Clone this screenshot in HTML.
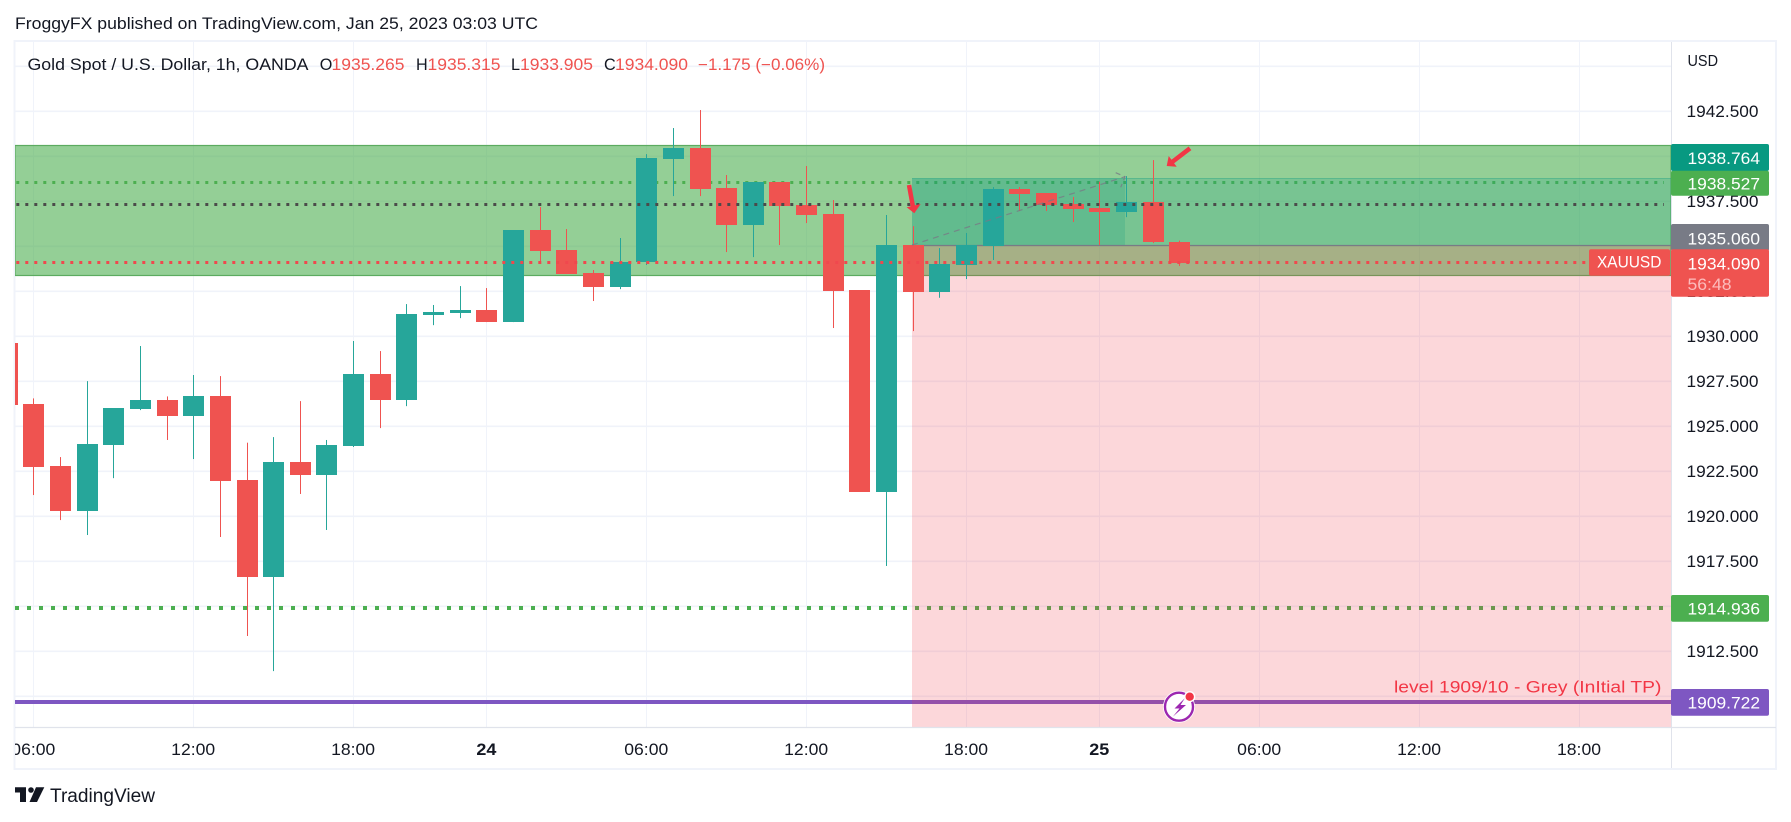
<!DOCTYPE html>
<html lang="en">
<head>
<meta charset="utf-8">
<title>Gold Spot / U.S. Dollar, 1h, OANDA</title>
<style>
html,body{margin:0;padding:0;background:#fff;width:1791px;height:822px;overflow:hidden}
svg{display:block;font-family:"Liberation Sans",sans-serif}
text{white-space:pre}
</style>
</head>
<body>
<svg id="chart" xmlns="http://www.w3.org/2000/svg" width="1791" height="822" viewBox="0 0 1791 822">
  <defs>
    <clipPath id="pane-clip"><rect x="15" y="42" width="1656" height="685"/></clipPath>
    <clipPath id="time-clip"><rect x="15" y="728" width="1656" height="40"/></clipPath>
  </defs>
  <text x="15" y="29" font-size="16.5" fill="#131722" textLength="523" lengthAdjust="spacingAndGlyphs">FroggyFX published on TradingView.com, Jan 25, 2023 03:03 UTC</text>

  <g>
    <rect x="14.5" y="41" width="1761.5" height="728" fill="#fff" stroke="#f0f3fa" stroke-width="2"/>
  </g>

  <g id="grid" clip-path="url(#pane-clip)"></g>

  <g clip-path="url(#pane-clip)">
    <rect x="15" y="145.5" width="1656" height="130" fill="rgba(76,175,80,.6)" stroke="#5cab60" stroke-width="1.2"/>
    <line id="level-upper-green" stroke="#4caf50" stroke-width="3" stroke-dasharray="3 6"/>
    <line id="level-lower-green" stroke="#4caf50" stroke-width="4" stroke-dasharray="4 8"/>
    <line id="level-purple" stroke="#7e57c2" stroke-width="4"/>
    <g>
      <rect x="912" y="178.5" width="759" height="67" fill="rgba(8,153,129,.2)"/>
      <rect x="912" y="245.5" width="759" height="481.5" fill="rgba(242,54,69,.2)"/>
      <rect x="912" y="178.5" width="213" height="67" fill="rgba(8,153,129,.2)"/>
      <line x1="912" y1="178.5" x2="1671" y2="178.5" stroke="rgba(8,153,129,.35)" stroke-width="1"/>
      <line x1="912" y1="245.5" x2="1671" y2="245.5" stroke="#787b86" stroke-width="1.2"/>
    </g>
  </g>

  <g id="candles" clip-path="url(#pane-clip)"></g>

  <g clip-path="url(#pane-clip)">
    <line id="level-black" stroke="#4a4a4a" stroke-width="3" stroke-dasharray="3 6"/>
    <line id="level-last" stroke="#f0484e" stroke-width="3" stroke-dasharray="3 6"/>
    <g fill="none" stroke="#787b86" stroke-opacity=".8" stroke-width="1.2">
      <line x1="912" y1="245" x2="1125" y2="176.7" stroke-dasharray="6 5"/>
      <path d="M1115.7 172.7L1125 176.7L1120.7 187.3" stroke-dasharray="5 4"/>
    </g>
    <g>
      <line x1="909" y1="185" x2="913" y2="207" stroke="#f23645" stroke-width="4.5"/>
      <polygon points="914.3,213.3 906.7,207.3 920.7,204" fill="#f23645"/>
    </g>
    <g>
      <line x1="1190" y1="148.3" x2="1171.5" y2="162.5" stroke="#f23645" stroke-width="4.5"/>
      <polygon points="1166.7,166 1168.7,156 1176.7,166.7" fill="#f23645"/>
    </g>
    <text x="1394" y="692.7" font-size="17" fill="#f23645" textLength="267.4" lengthAdjust="spacingAndGlyphs">level 1909/10 - Grey (InItial TP)</text>
    <g>
      <circle cx="1179" cy="706.7" r="16" fill="#fff"/>
      <circle cx="1179" cy="706.7" r="14" fill="none" stroke="#9c27b0" stroke-width="2.4"/>
      <path d="M1185 698L1174.5 708.5H1179.5L1173 716.5L1186 705H1180.5Z" fill="#9c27b0"/>
      <circle cx="1189.7" cy="696.7" r="5.6" fill="#fff"/>
      <circle cx="1189.7" cy="696.7" r="4.2" fill="#f23645"/>
    </g>
  </g>

  <g font-size="16.2">
    <text x="27.5" y="70" fill="#131722" textLength="281" lengthAdjust="spacingAndGlyphs">Gold Spot / U.S. Dollar, 1h, OANDA</text>
    <text x="319.7" y="70" fill="#131722">O</text>
    <text x="331.5" y="70" fill="#ef5350" textLength="73" lengthAdjust="spacingAndGlyphs">1935.265</text>
    <text x="416" y="70" fill="#131722">H</text>
    <text x="427.5" y="70" fill="#ef5350" textLength="73" lengthAdjust="spacingAndGlyphs">1935.315</text>
    <text x="511" y="70" fill="#131722">L</text>
    <text x="520" y="70" fill="#ef5350" textLength="73" lengthAdjust="spacingAndGlyphs">1933.905</text>
    <text x="604" y="70" fill="#131722">C</text>
    <text x="615" y="70" fill="#ef5350" textLength="73" lengthAdjust="spacingAndGlyphs">1934.090</text>
    <text x="698" y="70" fill="#ef5350" textLength="127" lengthAdjust="spacingAndGlyphs">−1.175 (−0.06%)</text>
  </g>

  <line x1="15" y1="727.5" x2="1776" y2="727.5" stroke="#e0e3eb" stroke-width="1.2"/>
  <line x1="1671.5" y1="42" x2="1671.5" y2="768" stroke="#e0e3eb" stroke-width="1"/>
  <g id="time-axis" clip-path="url(#time-clip)"></g>

  <text x="1687.5" y="66" font-size="16" fill="#131722" textLength="30.5" lengthAdjust="spacingAndGlyphs">USD</text>
  <g id="price-axis"></g>

  <g font-size="16.5" fill="#fff">
    <g>
      <rect x="1671" y="144" width="98" height="27" rx="2" fill="#089981"/>
      <text x="1687.5" y="164" textLength="72.5" lengthAdjust="spacingAndGlyphs">1938.764</text>
    </g>
    <g>
      <rect x="1671" y="170.7" width="98" height="25" rx="2" fill="#4caf50"/>
      <text x="1687.5" y="189.3" textLength="72.5" lengthAdjust="spacingAndGlyphs">1938.527</text>
    </g>
    <g>
      <rect x="1671" y="224" width="98" height="27" rx="2" fill="#787b86"/>
      <text x="1687.5" y="244.3" textLength="72.5" lengthAdjust="spacingAndGlyphs">1935.060</text>
    </g>
    <g>
      <rect x="1671" y="249.3" width="98" height="47.4" rx="2" fill="#ef5350"/>
      <text x="1687.5" y="269.3" textLength="72.5" lengthAdjust="spacingAndGlyphs">1934.090</text>
      <text x="1687.5" y="290" fill="#fcbcbc" textLength="44" lengthAdjust="spacingAndGlyphs">56:48</text>
    </g>
    <g>
      <rect x="1589" y="249.3" width="81" height="26.4" rx="2" fill="#ef5350"/>
      <text x="1597" y="267.7" textLength="64.4" lengthAdjust="spacingAndGlyphs">XAUUSD</text>
    </g>
    <g>
      <rect x="1671" y="595" width="98" height="26.7" rx="2" fill="#4caf50"/>
      <text x="1687.5" y="614.3" textLength="72.5" lengthAdjust="spacingAndGlyphs">1914.936</text>
    </g>
    <g>
      <rect x="1671" y="689" width="98" height="26.7" rx="2" fill="#7e57c2"/>
      <text x="1687.5" y="708.3" textLength="72.5" lengthAdjust="spacingAndGlyphs">1909.722</text>
    </g>
  </g>

  <g>
    <path d="M15 787.3H26V802H20V792.5H15Z" fill="#131722"/>
    <circle cx="31" cy="790" r="2.8" fill="#131722"/>
    <path d="M36 787.3H44.3L37 802H29.5Z" fill="#131722"/>
    <text x="50" y="802" font-size="19" fill="#131722" textLength="105" lengthAdjust="spacingAndGlyphs">TradingView</text>
  </g>
</svg>

<script>
// Hourly OHLC (first entry is the bar clipped at the left edge)
const opens  = [1929.63,1926.24,1922.79,1920.31,1923.97,1925.96,1926.46,1925.59,1926.68,1922.01,1916.62,1923.01,1922.29,1923.90,1927.90,1926.46,1931.18,1931.29,1931.46,1930.79,1935.90,1934.79,1933.51,1932.74,1934.11,1939.85,1940.46,1938.24,1936.18,1938.57,1937.29,1936.79,1932.57,1921.35,1935.07,1932.46,1933.96,1935.03,1938.18,1937.96,1937.35,1937.12,1936.90,1937.46,1935.265];
const highs  = [1929.63,1926.55,1923.29,1927.51,1926.01,1929.46,1926.66,1927.85,1927.79,1924.09,1924.40,1926.40,1924.24,1929.74,1929.18,1931.79,1931.74,1932.79,1932.68,1935.90,1937.18,1935.96,1933.68,1935.46,1940.12,1941.57,1942.57,1938.96,1938.57,1938.57,1939.46,1937.57,1932.57,1936.74,1936.12,1934.90,1935.74,1938.29,1938.29,1937.96,1937.74,1938.59,1938.90,1939.79,1935.315];
const lows   = [1926.18,1921.18,1919.79,1918.96,1922.12,1925.90,1924.24,1923.18,1918.85,1913.35,1911.40,1921.24,1919.24,1923.85,1924.90,1926.12,1930.62,1931.01,1930.79,1930.79,1934.12,1933.46,1931.96,1932.62,1933.96,1937.79,1937.79,1934.68,1934.40,1935.07,1936.29,1930.46,1921.35,1917.24,1930.29,1932.14,1933.18,1934.24,1936.96,1936.96,1936.35,1935.07,1936.62,1935.18,1933.905];
const closes = [1926.18,1922.75,1920.31,1924.01,1926.01,1926.46,1925.59,1926.68,1921.96,1916.62,1923.01,1922.29,1923.96,1927.90,1926.46,1931.24,1931.35,1931.46,1930.79,1935.90,1934.74,1933.46,1932.74,1934.12,1939.90,1940.46,1938.18,1936.18,1938.57,1937.25,1936.74,1932.51,1921.35,1935.07,1932.47,1934.01,1935.07,1938.18,1937.90,1937.29,1937.07,1936.90,1937.46,1935.24,1934.090];

// Axis labels
const gridPrices = [1945,1942.5,1940,1937.5,1935,1932.5,1930,1927.5,1925,1922.5,1920,1917.5,1915,1912.5,1910];
const priceTickLabels = ["1942.500","1940.000","1937.500","1935.000","1932.500","1930.000","1927.500","1925.000","1922.500","1920.000","1917.500","1915.000","1912.500","1910.000"];
const timeTickBars = [1,7,13,18,24,30,36,41,47,53,59];
const timeTickLabels = ["06:00","12:00","18:00","24","06:00","12:00","18:00","25","06:00","12:00","18:00"];

// Horizontal levels
const upperGreenLevel = 1938.527;
const blackLevel = 1937.33;
const lastPriceLevel = 1934.09;
const lowerGreenLevel = 1914.936;
const purpleLevel = 1909.722;

const SVG_NS = "http://www.w3.org/2000/svg";
function xScale(bar){ return 33.3 + 26.65 * (bar - 1); }
function yScale(price){ return 111.3 + (1942.5 - price) * 18; }

const gridGroup = document.getElementById("grid");
gridPrices.forEach(function(p){
  const line = document.createElementNS(SVG_NS, "line");
  
  
  line.setAttribute("x1", 15);
  line.setAttribute("x2", 1671);
  line.setAttribute("y1", yScale(p));
  line.setAttribute("y2", yScale(p));
  line.setAttribute("stroke", "#f0f3fa");
  line.setAttribute("stroke-width", "1.6");
  gridGroup.appendChild(line);
});
timeTickBars.forEach(function(b){
  const line = document.createElementNS(SVG_NS, "line");
  
  
  const x = Math.round(xScale(b)) + 0.5;
  line.setAttribute("x1", x);
  line.setAttribute("x2", x);
  line.setAttribute("y1", 42);
  line.setAttribute("y2", 727);
  line.setAttribute("stroke", "#f0f3fa");
  line.setAttribute("stroke-width", "1");
  gridGroup.appendChild(line);
});

function placeLevel(id, price, x1, x2){
  const el = document.getElementById(id);
  const odd = parseFloat(el.getAttribute("stroke-width")) % 2 === 1;
  const y = odd ? Math.floor(yScale(price)) + 0.5 : Math.ceil(yScale(price));
  el.setAttribute("x1", x1);
  el.setAttribute("x2", x2);
  el.setAttribute("y1", y);
  el.setAttribute("y2", y);
}
placeLevel("level-upper-green", upperGreenLevel, 16.3, 1664);
placeLevel("level-black", blackLevel, 16.3, 1664);
placeLevel("level-last", lastPriceLevel, 16.3, 1600);
placeLevel("level-lower-green", lowerGreenLevel, 15, 1665);
placeLevel("level-purple", purpleLevel, 15, 1671);

const candleGroup = document.getElementById("candles");
opens.forEach(function(open, i){
  const close = closes[i];
  const up = close >= open;
  const color = up ? "#26a69a" : "#ef5350";
  const cx = Math.round(xScale(i));
  const g = document.createElementNS(SVG_NS, "g");
  
  
  const wick = document.createElementNS(SVG_NS, "rect");
  
  
  wick.setAttribute("x", cx);
  wick.setAttribute("width", 1);
  wick.setAttribute("y", yScale(highs[i]));
  wick.setAttribute("height", Math.max(0, yScale(lows[i]) - yScale(highs[i])));
  wick.setAttribute("fill", color);
  const body = document.createElementNS(SVG_NS, "rect");
  
  
  const top = Math.round(yScale(Math.max(open, close)));
  const bottom = Math.round(yScale(Math.min(open, close)));
  body.setAttribute("x", cx - 10);
  body.setAttribute("width", 21);
  body.setAttribute("y", top);
  body.setAttribute("height", Math.max(1, bottom - top));
  body.setAttribute("fill", color);
  g.appendChild(wick);
  g.appendChild(body);
  candleGroup.appendChild(g);
});

const timeGroup = document.getElementById("time-axis");
timeTickLabels.forEach(function(label, i){
  const t = document.createElementNS(SVG_NS, "text");
  
  
  const isDay = label.length === 2;
  const w = isDay ? 20 : 44;
  t.setAttribute("x", xScale(timeTickBars[i]) - w / 2);
  t.setAttribute("y", 755);
  t.setAttribute("font-size", "16.5");
  t.setAttribute("font-weight", isDay ? "700" : "400");
  t.setAttribute("fill", "#131722");
  t.setAttribute("textLength", w);
  t.setAttribute("lengthAdjust", "spacingAndGlyphs");
  t.textContent = label;
  timeGroup.appendChild(t);
});

const priceGroup = document.getElementById("price-axis");
priceTickLabels.forEach(function(label){
  const t = document.createElementNS(SVG_NS, "text");
  
  
  t.setAttribute("x", 1686.5);
  t.setAttribute("y", yScale(parseFloat(label)) + 5.6);
  t.setAttribute("font-size", "16.5");
  t.setAttribute("fill", "#131722");
  t.setAttribute("textLength", 72);
  t.setAttribute("lengthAdjust", "spacingAndGlyphs");
  t.textContent = label;
  priceGroup.appendChild(t);
});
</script>
</body>
</html>
